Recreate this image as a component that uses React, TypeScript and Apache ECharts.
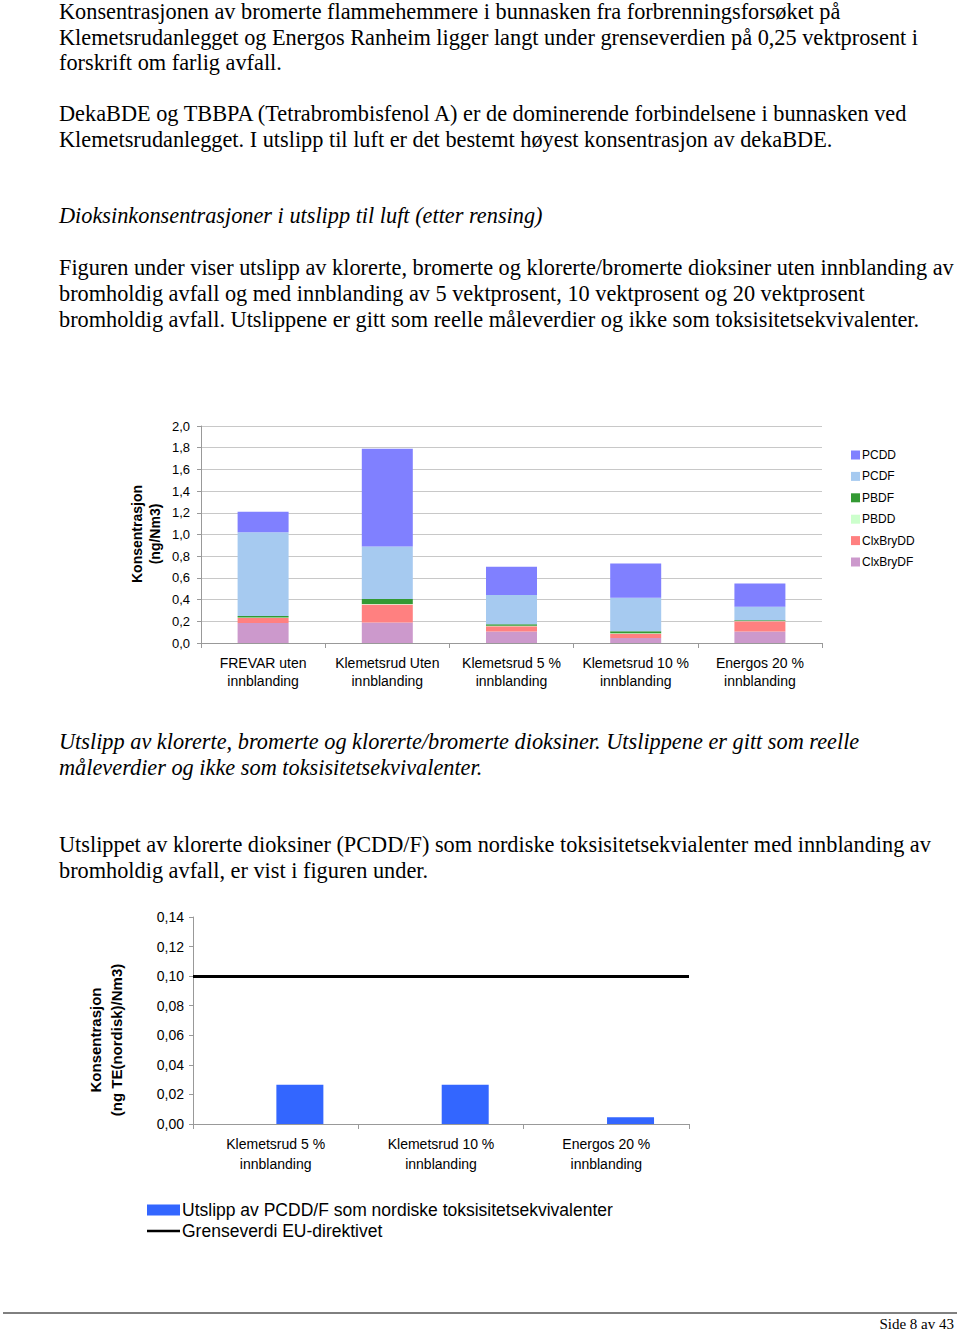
import React, { useEffect, useRef } from "react";
import * as echarts from "echarts";

// ---------- Chart 1 data ----------
const categories1 = [
  "FREVAR uten\ninnblanding",
  "Klemetsrud Uten\ninnblanding",
  "Klemetsrud 5 %\ninnblanding",
  "Klemetsrud 10 %\ninnblanding",
  "Energos 20 %\ninnblanding",
];
const clxBryDF = [0.185, 0.19, 0.105, 0.045, 0.105];
const clxBryDD = [0.045, 0.165, 0.05, 0.04, 0.095];
const pbdd = [0.005, 0.005, 0.005, 0.005, 0.003];
const pbdf = [0.015, 0.045, 0.012, 0.018, 0.007];
const pcdf = [0.77, 0.485, 0.27, 0.31, 0.125];
const pcdd = [0.19, 0.9, 0.26, 0.315, 0.213];
const legendOrder1 = ["PCDD", "PCDF", "PBDF", "PBDD", "ClxBryDD", "ClxBryDF"];

// ---------- Chart 2 data ----------
const categories2 = [
  "Klemetsrud 5 %\ninnblanding",
  "Klemetsrud 10 %\ninnblanding",
  "Energos 20 %\ninnblanding",
];
const teqValues = [0.0266, 0.0266, 0.0045];
const limitValue = [0.1];

const SERIF = '"Liberation Serif", "Times New Roman", serif';
const SANS = '"Liberation Sans", Arial, sans-serif';

const paragraphs: { text: string; y: number; italic?: boolean }[] = [
  { text: "Konsentrasjonen av bromerte flammehemmere i bunnasken fra forbrenningsforsøket på", y: 11 },
  { text: "Klemetsrudanlegget og Energos Ranheim ligger langt under grenseverdien på 0,25 vektprosent i", y: 37 },
  { text: "forskrift om farlig avfall.", y: 62 },
  { text: "DekaBDE og TBBPA (Tetrabrombisfenol A) er de dominerende forbindelsene i bunnasken ved", y: 113 },
  { text: "Klemetsrudanlegget. I utslipp til luft er det bestemt høyest konsentrasjon av dekaBDE.", y: 139 },
  { text: "Dioksinkonsentrasjoner i utslipp til luft (etter rensing)", y: 215, italic: true },
  { text: "Figuren under viser utslipp av klorerte, bromerte og klorerte/bromerte dioksiner uten innblanding av", y: 267 },
  { text: "bromholdig avfall og med innblanding av 5 vektprosent, 10 vektprosent og 20 vektprosent", y: 293 },
  { text: "bromholdig avfall. Utslippene er gitt som reelle måleverdier og ikke som toksisitetsekvivalenter.", y: 319 },
  { text: "Utslipp av klorerte, bromerte og klorerte/bromerte dioksiner. Utslippene er gitt som reelle", y: 741, italic: true },
  { text: "måleverdier og ikke som toksisitetsekvivalenter.", y: 767, italic: true },
  { text: "Utslippet av klorerte dioksiner (PCDD/F) som nordiske toksisitetsekvialenter med innblanding av", y: 844 },
  { text: "bromholdig avfall, er vist i figuren under.", y: 870 },
];

export default function App() {
  const ref = useRef<HTMLDivElement>(null);
  useEffect(() => {
    if (!ref.current) return;
    const chart = echarts.init(ref.current, undefined, { renderer: "svg" });

    const stackSeries = [
      { name: "ClxBryDF", data: clxBryDF, color: "#CC99CC" },
      { name: "ClxBryDD", data: clxBryDD, color: "#FF8080" },
      { name: "PBDD", data: pbdd, color: "#CCFFCC" },
      { name: "PBDF", data: pbdf, color: "#339933" },
      { name: "PCDF", data: pcdf, color: "#A6CAF0" },
      { name: "PCDD", data: pcdd, color: "#8080FF" },
    ].map((s) => ({
      name: s.name,
      type: "bar",
      stack: "total",
      xAxisIndex: 0,
      yAxisIndex: 0,
      barWidth: 51,
      data: s.data,
      itemStyle: { color: s.color },
    }));

    const graphics: any[] = paragraphs.map((p) => ({
      type: "text",
      x: 59,
      y: p.y,
      style: {
        text: p.text,
        font: `${p.italic ? "italic " : ""}22.3px ${SERIF}`,
        fill: "#000",
        verticalAlign: "middle",
        align: "left",
      },
    }));
    graphics.push(
      {
        type: "text",
        x: 146,
        y: 534,
        rotation: Math.PI / 2,
        style: {
          text: "Konsentrasjon\n(ng/Nm3)",
          font: `bold 14px ${SANS}`,
          lineHeight: 18,
          fill: "#000",
          align: "center",
          verticalAlign: "middle",
        },
      },
      {
        type: "text",
        x: 106,
        y: 1040,
        rotation: Math.PI / 2,
        style: {
          text: "Konsentrasjon\n(ng TE(nordisk)/Nm3)",
          font: `bold 15px ${SANS}`,
          lineHeight: 21,
          fill: "#000",
          align: "center",
          verticalAlign: "middle",
        },
      },
      {
        type: "line",
        shape: { x1: 3, y1: 1313, x2: 957, y2: 1313 },
        style: { stroke: "#000", lineWidth: 1 },
      },
      {
        type: "text",
        x: 954,
        y: 1324,
        style: {
          text: "Side 8 av 43",
          font: `15px ${SERIF}`,
          fill: "#000",
          align: "right",
          verticalAlign: "middle",
        },
      }
    );

    chart.setOption({
      animation: false,
      backgroundColor: "#fff",
      grid: [
        { left: 201, top: 426, width: 621, height: 217, containLabel: false },
        { left: 193, top: 917, width: 496, height: 207, containLabel: false },
      ],
      legend: [
        {
          orient: "vertical",
          left: 851,
          top: 449,
          padding: 0,
          itemWidth: 9,
          itemHeight: 9,
          itemGap: 9.4,
          icon: "rect",
          data: legendOrder1,
          textStyle: {
            fontFamily: SANS,
            fontSize: 12,
            lineHeight: 12,
            color: "#000",
            padding: [0, 0, 0, -3],
          },
          selectedMode: false,
        },
        {
          orient: "vertical",
          left: 147,
          top: 1201,
          padding: 0,
          itemWidth: 33,
          itemHeight: 11,
          itemGap: 3,
          data: [
            { name: "Utslipp av PCDD/F som nordiske toksisitetsekvivalenter", icon: "rect" },
            { name: "Grenseverdi EU-direktivet", icon: "path://M0 0H33V2.5H0Z" },
          ],
          textStyle: {
            fontFamily: SANS,
            fontSize: 17.5,
            lineHeight: 17,
            color: "#000",
            padding: [0, 0, 0, -3],
          },
          selectedMode: false,
        },
      ],
      xAxis: [
        {
          type: "category",
          gridIndex: 0,
          data: categories1,
          axisLine: { lineStyle: { color: "#999" } },
          axisTick: { show: true, length: 5, lineStyle: { color: "#999" } },
          axisLabel: {
            color: "#000",
            fontFamily: SANS,
            fontSize: 14,
            lineHeight: 18,
            margin: 11,
            interval: 0,
          },
        },
        {
          type: "category",
          gridIndex: 1,
          data: categories2,
          axisLine: { lineStyle: { color: "#999" } },
          axisTick: { show: true, length: 5, lineStyle: { color: "#999" } },
          axisLabel: {
            color: "#000",
            fontFamily: SANS,
            fontSize: 14,
            lineHeight: 20,
            margin: 10,
            interval: 0,
          },
        },
      ],
      yAxis: [
        {
          type: "value",
          gridIndex: 0,
          min: 0,
          max: 2,
          interval: 0.2,
          axisLine: { show: true, lineStyle: { color: "#999" } },
          axisTick: { show: true, length: 4, lineStyle: { color: "#999" } },
          splitLine: { show: true, lineStyle: { color: "#c8c8c8" } },
          axisLabel: {
            color: "#000",
            fontFamily: SANS,
            fontSize: 13,
            margin: 11,
            formatter: (v: number) => v.toFixed(1).replace(".", ","),
          },
        },
        {
          type: "value",
          gridIndex: 1,
          min: 0,
          max: 0.14,
          interval: 0.02,
          axisLine: { show: true, lineStyle: { color: "#999" } },
          axisTick: { show: true, length: 4, lineStyle: { color: "#999" } },
          splitLine: { show: false },
          axisLabel: {
            color: "#000",
            fontFamily: SANS,
            fontSize: 14,
            margin: 9,
            formatter: (v: number) => v.toFixed(2).replace(".", ","),
          },
        },
      ],
      series: [
        ...stackSeries,
        {
          // empty slot: in the original the blue columns sit right of the category centre
          name: "slot",
          type: "bar",
          xAxisIndex: 1,
          yAxisIndex: 1,
          barWidth: 47,
          barGap: "3%",
          data: [],
          silent: true,
        },
        {
          name: "Utslipp av PCDD/F som nordiske toksisitetsekvivalenter",
          type: "bar",
          xAxisIndex: 1,
          yAxisIndex: 1,
          barWidth: 47,
          barGap: "3%",
          data: teqValues,
          itemStyle: { color: "#3366FF" },
        },
        {
          name: "Grenseverdi EU-direktivet",
          type: "line",
          xAxisIndex: 1,
          yAxisIndex: 1,
          data: [],
          symbol: "none",
          lineStyle: { color: "#000", width: 3 },
          itemStyle: { color: "#000" },
          markLine: {
            silent: true,
            symbol: "none",
            label: { show: false },
            lineStyle: { color: "#000", width: 3, type: "solid" },
            data: limitValue.map((v) => ({ yAxis: v })),
          },
        },
      ],
      graphic: graphics,
    });

    return () => chart.dispose();
  }, []);

  return (
    <div
      ref={ref}
      style={{ position: "absolute", left: 0, top: 0, width: 960, height: 1331, background: "#fff" }}
    />
  );
}
